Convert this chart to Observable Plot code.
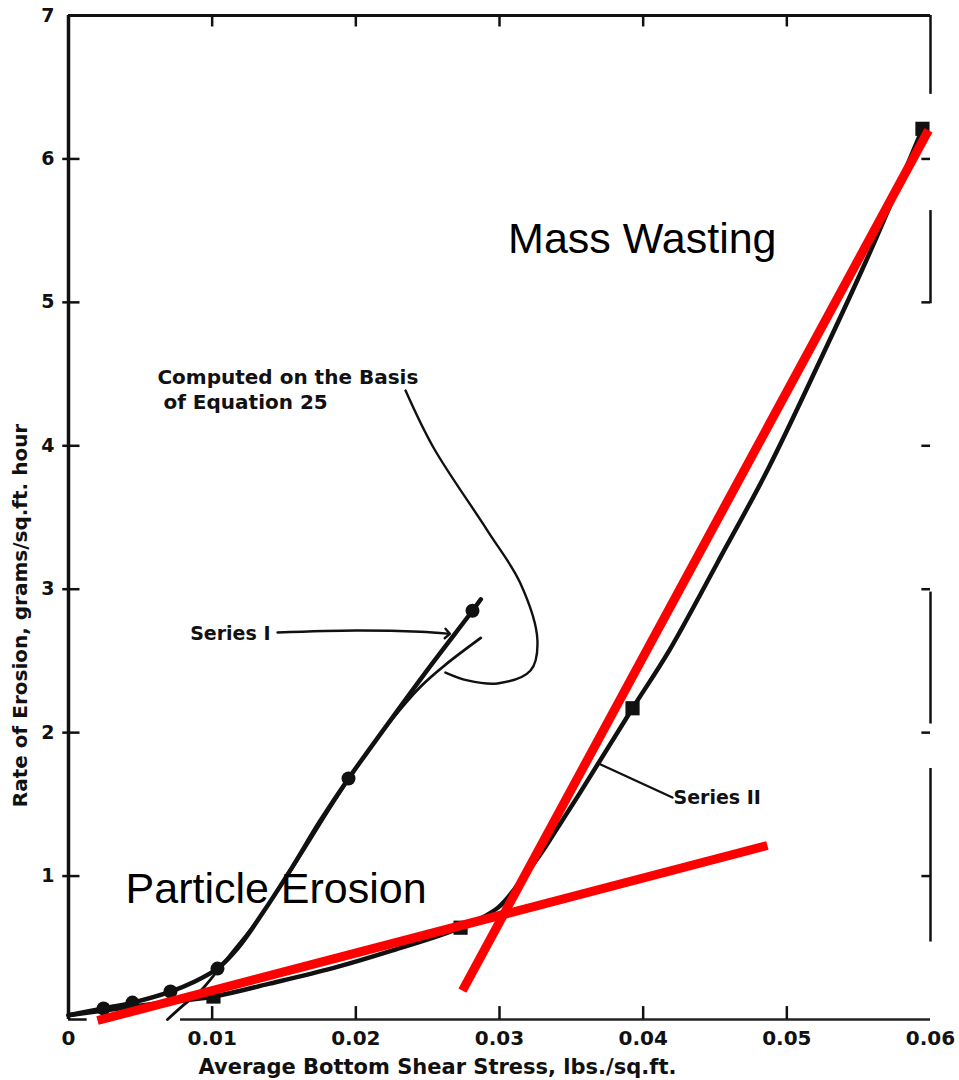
<!DOCTYPE html>
<html>
<head>
<meta charset="utf-8">
<script src="https://cdn.jsdelivr.net/npm/d3@7"></script>
<script src="https://cdn.jsdelivr.net/npm/@observablehq/plot@0.6"></script>
<style>
  html, body { margin: 0; padding: 0; background: #fff; }
</style>
</head>
<body>
<div id="chart"></div>
<script>
// ---------- data ----------
const xTicks = [0, 0.01, 0.02, 0.03, 0.04, 0.05, 0.06];
const xTickLabels = ["0", "0.01", "0.02", "0.03", "0.04", "0.05", "0.06"];
const yTicks = [1, 2, 3, 4, 5, 6, 7];
const yTickLabels = ["1", "2", "3", "4", "5", "6", "7"];

// Series I (circles) – curve and measured points
const seriesI_x = [0, 0.00244, 0.00445, 0.0071, 0.0088, 0.01037, 0.0118, 0.0135, 0.0155, 0.0175, 0.01949, 0.022, 0.025, 0.02812, 0.0287];
const seriesI_y = [0.03, 0.077, 0.118, 0.195, 0.265, 0.355, 0.50, 0.74, 1.05, 1.38, 1.68, 2.03, 2.44, 2.85, 2.93];
const seriesI_ptx = [0.00244, 0.00445, 0.0071, 0.01037, 0.01949, 0.02812];
const seriesI_pty = [0.077, 0.118, 0.195, 0.355, 1.68, 2.85];

// Curve computed on the basis of Equation 25
const computed_x = [0.00689, 0.0080, 0.00919, 0.01037, 0.01148, 0.01288, 0.0145, 0.0165, 0.0185, 0.0205, 0.0225, 0.0245, 0.0262, 0.0287];
const computed_y = [0.0, 0.1, 0.20, 0.34, 0.48, 0.655, 0.89, 1.20, 1.52, 1.82, 2.09, 2.32, 2.47, 2.66];

// Series II (squares) – curve and measured points
const seriesII_x = [0, 0.003, 0.006, 0.01009, 0.014, 0.01846, 0.0225, 0.02729, 0.0299, 0.0315, 0.0329, 0.0340, 0.0356, 0.03926, 0.0418, 0.0452, 0.0487, 0.0522, 0.0557, 0.05944];
const seriesII_y = [0.03, 0.07, 0.11, 0.16, 0.25, 0.36, 0.48, 0.64, 0.78, 0.97, 1.16, 1.33, 1.58, 2.17, 2.57, 3.19, 3.84, 4.57, 5.33, 6.21];
const seriesII_ptx = [0.01009, 0.02729, 0.03926, 0.05944];
const seriesII_pty = [0.16, 0.64, 2.17, 6.21];

// Red fitted lines
const particleLine_x = [0.00202, 0.04865];
const particleLine_y = [-0.007, 1.213];
const massLine_x = [0.02742, 0.05986];
const massLine_y = [0.202, 6.20];

// Leader lines
const eqLeader_x = [0.02346, 0.0254, 0.02916, 0.03146, 0.03264, 0.03216, 0.02986, 0.02777, 0.02624];
const eqLeader_y = [4.385, 3.988, 3.409, 3.040, 2.642, 2.433, 2.343, 2.364, 2.419];
const s1Leader_x = [0.01455, 0.020, 0.0245, 0.02638];
const s1Leader_y = [2.698, 2.712, 2.703, 2.69];
const s2Leader_x = [0.03689, 0.04204];
const s2Leader_y = [1.785, 1.548];

// Right frame (scanned, broken) segments and its ticks
const rightSeg_y1 = [7, 5.64, 2.98, 1.75];
const rightSeg_y2 = [6.45, 4.99, 2.06, 0.54];
const rightTicks = [1, 2, 3, 4, 5, 6];

// ---------- build ----------
const pts = (xs, ys) => xs.map((x, i) => ({x, y: ys[i]}));
const segs = (a, b) => a.map((v, i) => ({y1: v, y2: b[i]}));
const ink = "#111";
const bold = "DejaVu Sans, Liberation Sans, sans-serif";

const chart = Plot.plot({
  width: 959,
  height: 1080,
  marginLeft: 68,
  marginRight: 29,
  marginTop: 15,
  marginBottom: 61,
  x: {domain: [0, 0.06]},
  y: {domain: [0, 7]},
  style: {background: "#fff", color: ink, fontFamily: bold},
  marks: [
    // frame
    Plot.ruleX([0], {y1: 0, y2: 7, stroke: ink, strokeWidth: 3.5}),
    Plot.ruleY([7], {x1: 0, x2: 0.06, stroke: ink, strokeWidth: 3}),
    Plot.ruleY([0], {x1: 0, x2: 0.0013, stroke: ink, strokeWidth: 2.5}),
    Plot.ruleY([0], {x1: 0.0078, x2: 0.06, stroke: "#222", strokeWidth: 2.5}),
    Plot.ruleX(segs(rightSeg_y1, rightSeg_y2), {x: 0.06, y1: "y1", y2: "y2", stroke: ink, strokeWidth: 2.5}),
    // ticks (inward)
    Plot.ruleX(xTicks.slice(1, 6), {y1: 0, y2: 0.09, stroke: ink, strokeWidth: 2.5}),
    Plot.ruleX(xTicks.slice(1, 6), {y1: 7, y2: 6.92, stroke: ink, strokeWidth: 2.5}),
    Plot.ruleY(yTicks.slice(0, 6), {x1: -0.0004, x2: 0.0008, stroke: ink, strokeWidth: 2.5}),
    Plot.ruleY(rightTicks, {x1: 0.0594, x2: 0.06, stroke: ink, strokeWidth: 2.5}),
    // axes labels
    Plot.axisX(xTicks, {tickSize: 0, tickPadding: 11, tickFormat: d => xTickLabels[xTicks.indexOf(d)], fontSize: 20, fontWeight: "bold", fontFamily: bold, label: null}),
    Plot.axisY(yTicks, {tickSize: 0, tickPadding: 14, tickFormat: d => yTickLabels[yTicks.indexOf(d)], fontSize: 19, fontWeight: "bold", fontFamily: bold, label: null}),
    Plot.text(["Average Bottom Shear Stress, lbs./sq.ft."], {x: 0.02568, y: -0.38, text: d => d, lineAnchor: "bottom", fontSize: 21, fontWeight: "bold", fontFamily: bold, fill: ink}),
    Plot.text(["Rate of Erosion, grams/sq.ft. hour"], {x: -0.00334, y: 2.817, text: d => d, rotate: -90, lineAnchor: "middle", fontSize: 20, fontWeight: "bold", fontFamily: bold, fill: ink}),

    // curves
    Plot.line(pts(computed_x, computed_y), {x: "x", y: "y", curve: "catmull-rom", stroke: ink, strokeWidth: 2.8}),
    Plot.line(pts(seriesI_x, seriesI_y), {x: "x", y: "y", curve: "catmull-rom", stroke: ink, strokeWidth: 4.5}),
    Plot.line(pts(seriesII_x, seriesII_y), {x: "x", y: "y", curve: "catmull-rom", stroke: ink, strokeWidth: 4.5}),
    Plot.dot(pts(seriesI_ptx, seriesI_pty), {x: "x", y: "y", r: 7, fill: ink, stroke: "none"}),
    Plot.dot(pts(seriesII_ptx, seriesII_pty), {x: "x", y: "y", r: 8, symbol: "square", fill: ink, stroke: "none"}),

    // leaders
    Plot.line(pts(eqLeader_x, eqLeader_y), {x: "x", y: "y", curve: "catmull-rom", stroke: ink, strokeWidth: 2.4}),
    Plot.line(pts(s1Leader_x, s1Leader_y), {x: "x", y: "y", curve: "catmull-rom", stroke: ink, strokeWidth: 2.4, markerEnd: "arrow"}),
    Plot.line(pts(s2Leader_x, s2Leader_y), {x: "x", y: "y", stroke: ink, strokeWidth: 2.4}),

    // annotation labels of the scan
    Plot.text(["Computed on the Basis"], {x: 0.00619, y: 4.434, text: d => d, textAnchor: "start", lineAnchor: "bottom", fontSize: 20, fontWeight: "bold", fontFamily: bold, fill: ink}),
    Plot.text(["of Equation 25"], {x: 0.00661, y: 4.253, text: d => d, textAnchor: "start", lineAnchor: "bottom", fontSize: 20, fontWeight: "bold", fontFamily: bold, fill: ink}),
    Plot.text(["Series I"], {x: 0.01406, y: 2.691, text: d => d, textAnchor: "end", lineAnchor: "middle", fontSize: 19, fontWeight: "bold", fontFamily: bold, fill: ink}),
    Plot.text(["Series II"], {x: 0.04211, y: 1.548, text: d => d, textAnchor: "start", lineAnchor: "middle", fontSize: 19, fontWeight: "bold", fontFamily: bold, fill: ink}),

    // red overlay lines
    Plot.line(pts(particleLine_x, particleLine_y), {x: "x", y: "y", stroke: "#ff0000", strokeWidth: 9, strokeLinecap: "butt"}),
    Plot.line(pts(massLine_x, massLine_y), {x: "x", y: "y", stroke: "#ff0000", strokeWidth: 9, strokeLinecap: "butt"}),

    // overlay annotations
    Plot.text(["Mass Wasting"], {x: 0.0306, y: 5.341, text: d => d, textAnchor: "start", lineAnchor: "bottom", fontSize: 43, fontWeight: "normal", fontFamily: "Liberation Sans, Arial, sans-serif", fill: "#000"}),
    Plot.text(["Particle Erosion"], {x: 0.00397, y: 0.809, text: d => d, textAnchor: "start", lineAnchor: "bottom", fontSize: 43, fontWeight: "normal", fontFamily: "Liberation Sans, Arial, sans-serif", fill: "#000"})
  ]
});
document.getElementById("chart").appendChild(chart);
</script>
</body>
</html>
